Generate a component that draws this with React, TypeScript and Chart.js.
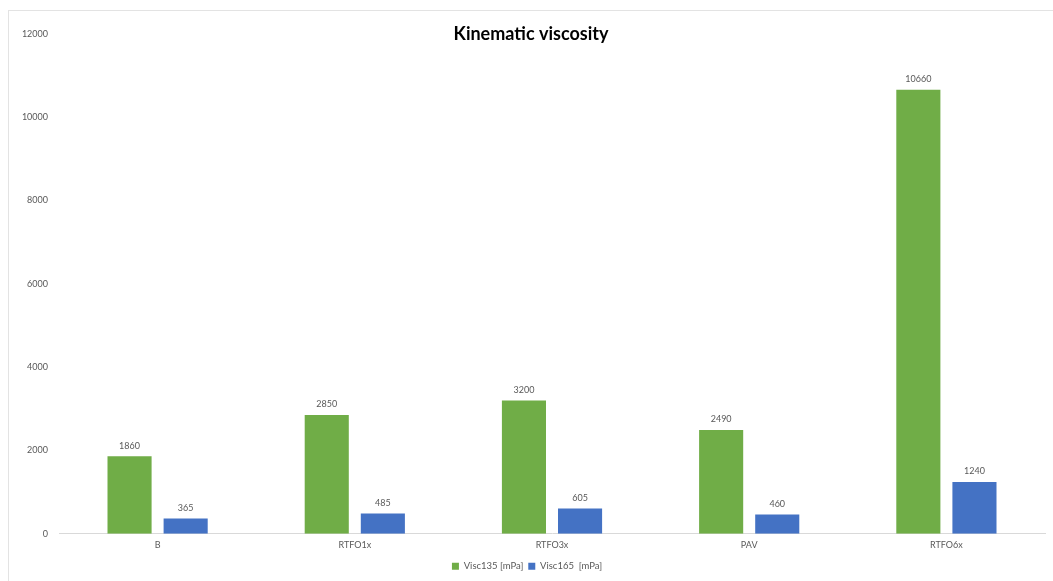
import React, { useEffect, useRef } from "react";
import { Chart, registerables } from "chart.js";

Chart.register(...registerables);

const categories = ["B", "RTFO1x", "RTFO3x", "PAV", "RTFO6x"];
const visc135 = [1860, 2850, 3200, 2490, 10660];
const visc165 = [365, 485, 605, 460, 1240];
const seriesNames = ["Visc135 [mPa]", "Visc165  [mPa]"];
const titleText = "Kinematic viscosity";

const FONT = "Lato, 'Open Sans', sans-serif";
const GRAY = "#595959";

const valueLabels = {
  id: "valueLabels",
  afterDatasetsDraw(chart: any) {
    const ctx = chart.ctx;
    ctx.save();
    ctx.font = `9px ${FONT}`;
    ctx.fillStyle = GRAY;
    ctx.textAlign = "center";
    ctx.textBaseline = "bottom";
    chart.data.datasets.forEach((ds: any, di: number) => {
      const meta = chart.getDatasetMeta(di);
      meta.data.forEach((el: any, i: number) => {
        ctx.fillText(String(ds.data[i]), el.x, el.y - 6);
      });
    });
    ctx.restore();
  },
};

const titlePlugin = {
  id: "customTitle",
  afterDraw(chart: any) {
    const ctx = chart.ctx;
    ctx.save();
    ctx.font = `bold 18px ${FONT}`;
    ctx.fillStyle = "#000000";
    ctx.textAlign = "center";
    ctx.textBaseline = "middle";
    ctx.fillText(titleText, chart.width / 2, 23);
    ctx.restore();
  },
};

export default function App() {
  const ref = useRef<HTMLCanvasElement | null>(null);
  useEffect(() => {
    if (!ref.current) return;
    const chart = new Chart(ref.current, {
      type: "bar",
      data: {
        labels: categories,
        datasets: [
          {
            label: seriesNames[0],
            data: visc135,
            backgroundColor: "#70ad47",
            categoryPercentage: 0.569,
            barPercentage: 0.786,
          },
          {
            label: seriesNames[1],
            data: visc165,
            backgroundColor: "#4472c4",
            categoryPercentage: 0.569,
            barPercentage: 0.786,
          },
        ],
      },
      options: {
        responsive: false,
        animation: false,
        layout: { padding: { top: 23, right: 8, bottom: 0, left: 0 } },
        plugins: {
          title: { display: false },
          tooltip: { enabled: false },
          legend: {
            position: "bottom",
            labels: {
              boxWidth: 7,
              boxHeight: 7,
              padding: 5,
              color: GRAY,
              font: { family: FONT, size: 9.5 },
            },
          },
        },
        scales: {
          x: {
            grid: { display: true, drawOnChartArea: false, drawTicks: false, color: "transparent" },
            border: { display: true, color: "#d9d9d9", width: 1 },
            ticks: { color: GRAY, font: { family: FONT, size: 9 }, padding: 6 },
          },
          y: {
            min: 0,
            max: 12000,
            grid: { display: false },
            border: { display: false },
            ticks: {
              stepSize: 2000,
              color: GRAY,
              font: { family: FONT, size: 9 },
              padding: 3,
              callback: (v: any) => String(v),
            },
            afterFit(scale: any) {
              scale.width = 50;
            },
          },
        },
      },
      plugins: [valueLabels, titlePlugin],
    });
    return () => chart.destroy();
  }, []);
  return (
    <div
      style={{
        position: "fixed",
        left: 8,
        top: 10,
        right: 0,
        bottom: 0,
        borderLeft: "1px solid #e3e3e3",
        borderTop: "1px solid #e3e3e3",
        background: "#fff",
      }}
    >
      <canvas ref={ref} width={1044} height={570} style={{ display: "block" }} />
    </div>
  );
}
